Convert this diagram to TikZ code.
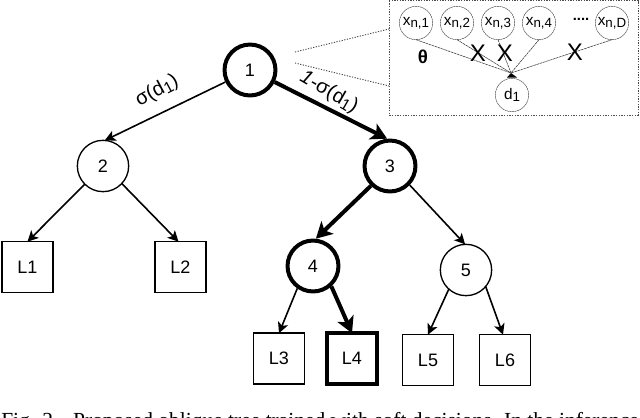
\documentclass[tikz,border=0pt]{standalone}
\usepackage{fontspec}
\setmainfont{Liberation Sans}
\newfontfamily\capfont{Liberation Serif}
\usetikzlibrary{arrows.meta}
\newcommand{\lowsub}[2]{\raisebox{-0.28ex}{\fontsize{#1}{#1}\selectfont #2}}
\tikzset{
 x=0.75pt,y=-0.75pt,
 thinnode/.style={circle,draw,line width=1pt,minimum size=38.5pt,inner sep=0pt,outer sep=0pt,font=\fontsize{13.5}{15}\selectfont},
 thicknode/.style={circle,draw,line width=3pt,minimum size=38.2pt,inner sep=0pt,outer sep=1.5pt,font=\fontsize{13.5}{15}\selectfont},
 leafbox/.style={rectangle,draw,line width=1.1pt,minimum width=38pt,minimum height=38pt,inner sep=0pt,outer sep=0pt,font=\fontsize{13.5}{15}\selectfont},
 thickleaf/.style={leafbox,line width=3pt,minimum width=37.5pt,minimum height=38pt},
 thinedge/.style={line width=1.2pt,-{Stealth[length=8pt,width=8pt,inset=2pt]}},
 thickedge/.style={line width=3pt,-{Stealth[length=12pt,width=13pt,inset=3pt]}},
 feat/.style={circle,draw=black!75,dash pattern=on 1.5pt off 0.4pt,line width=0.35pt,minimum size=25pt,inner sep=0pt,outer sep=0pt,font=\fontsize{11.5}{13}\selectfont},
 featedge/.style={line width=0.4pt,draw=black!80,dash pattern=on 2pt off 0.5pt},
 dotline/.style={line width=0.7pt,draw=black!70,dash pattern=on 0.9pt off 1.1pt},
 cross/.style={font=\fontsize{18}{18}\selectfont,inner sep=0pt},
 elabel/.style={font=\fontsize{15}{17}\selectfont,inner sep=0pt}
}
\begin{document}
\begin{tikzpicture}
\useasboundingbox (0,0) rectangle (640,418);
\fill[white] (0,0) rectangle (640,418);
\node[thicknode] (n1) at (250,70) {1};
\node[thinnode] (n2) at (103,166) {2};
\node[thicknode] (n3) at (390,166) {3};
\node[thicknode] (n4) at (313,266) {4};
\node[thinnode] (n5) at (466,270) {5};
\node[leafbox] (l1) at (27.5,267) {L1};
\node[leafbox] (l2) at (180.5,267) {L2};
\node[leafbox] (l3) at (279,358.5) {L3};
\node[thickleaf] (l4) at (352,358.5) {L4};
\node[leafbox] (l5) at (428,360) {L5};
\node[leafbox] (l6) at (505,360) {L6};
\draw[thinedge] (n1.206) -- (n2.86);
\draw[thickedge] (n1.-26) -- (n3.96);
\draw[thinedge] (n2.225) -- (l1.north);
\draw[thinedge] (n2.-43) -- ([xshift=-1.5pt]l2.north);
\draw[thickedge] (n3.226) -- (n4.84);
\draw[thinedge] (n3.-44) -- (n5.92);
\draw[thinedge] (n4.235) -- (l3.north);
\draw[thickedge] (n4.-48) -- (l4.north);
\draw[thinedge] (n5.228) -- (l5.north);
\draw[thinedge] (n5.-40) -- ([xshift=-1.5pt]l6.north);
\node[elabel,rotate=28] (lab1) at (157,91) {σ(d\lowsub{12}{1})};
\node[elabel,rotate=-30] (lab2) at (329,92) {\textit{1}-σ(d\lowsub{12}{1})};
% inset
\coordinate (bnw) at (389,0.7);
\coordinate (bse) at (638,115);
\draw[dotline] (bnw) rectangle (bse);
\coordinate (z1a) at (295,52);
\coordinate (z1b) at (389,29);
\coordinate (z2a) at (295,63);
\coordinate (z2b) at (389,86);
\draw[dotline] (z1a) -- (z1b);
\draw[dotline] (z2a) -- (z2b);
\node[feat] (x1) at (416,23) {x\lowsub{10}{n,1}};
\node[feat] (x2) at (457,23) {x\lowsub{10}{n,2}};
\node[feat] (x3) at (498,23) {x\lowsub{10}{n,3}};
\node[feat] (x4) at (539,23) {x\lowsub{10}{n,4}};
\node[feat] (x5) at (612,23) {x\lowsub{10}{n,D}};
\node[feat] (d1) at (512,95) {d\lowsub{10}{1}};
\coordinate (tip) at (511,73);
\foreach \k in {x1,x2,x3,x4,x5} \draw[featedge] (\k.south) -- (tip);
\fill (507,77.5) -- (tip) -- (517,77.5) -- cycle;
\node[font=\bfseries\fontsize{14}{15}\selectfont,inner sep=0pt] (th) at (423,57) {θ};
\node[cross] (c1) at (478,53) {X};
\node[cross] (c2) at (505,53) {X};
\node[cross] (c3) at (575,52) {X};
\node[font=\bfseries\fontsize{11}{12}\selectfont,inner sep=0pt] (dd) at (581,19) {....};
\node[anchor=base west,inner sep=0pt,font=\capfont\fontsize{16.1}{18}\selectfont] (cap) at (1,427.5) {Fig. 2.\hspace{11pt}Proposed oblique tree trained with soft decisions. In the inference};
\end{tikzpicture}
\end{document}
